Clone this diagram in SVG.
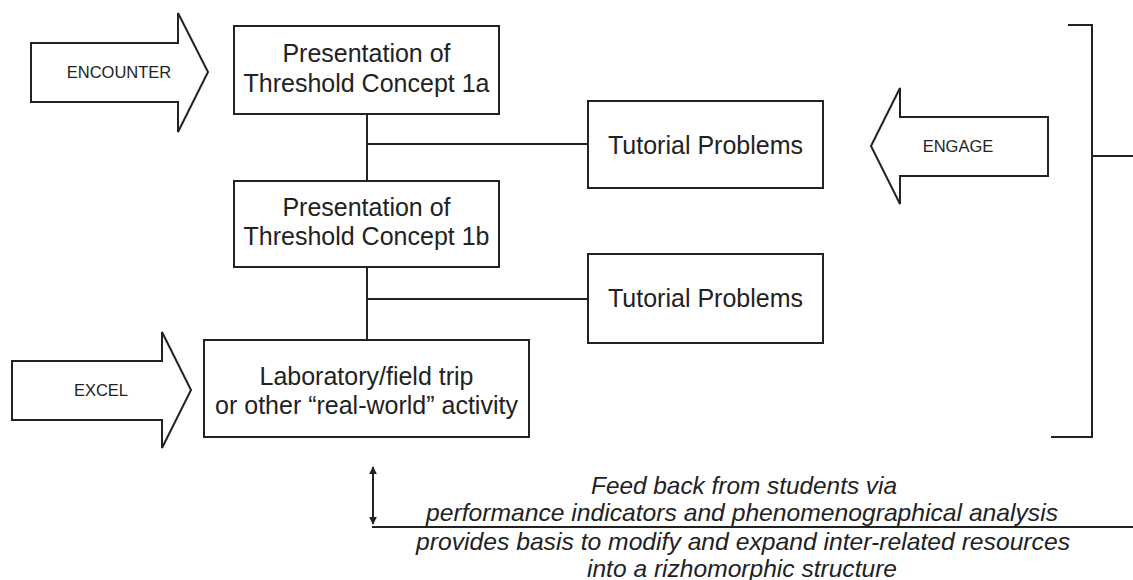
<svg xmlns="http://www.w3.org/2000/svg" width="1133" height="580" viewBox="0 0 1133 580">
<style>
.box{fill:#fff;stroke:#222;stroke-width:2}
.ln{fill:none;stroke:#222;stroke-width:2}
.t{font-family:"Liberation Sans",Arial,sans-serif;font-size:25px;fill:#222;text-anchor:middle}
.a{font-family:"Liberation Sans",Arial,sans-serif;font-size:16.5px;fill:#222;text-anchor:middle}
.i{font-family:"Liberation Sans",Arial,sans-serif;font-size:24px;font-style:italic;fill:#222;text-anchor:middle}
</style>
<defs>
<marker id="ah" viewBox="0 0 10 10" refX="9" refY="5" markerWidth="8" markerHeight="8" markerUnits="userSpaceOnUse" orient="auto-start-reverse">
<path d="M0,0 L10,5 L0,10 z" fill="#222"/>
</marker>
</defs>
<rect width="1133" height="580" fill="#fff"/>
<g id="connectors">
<line class="ln" x1="367" y1="114" x2="367" y2="181"/>
<line class="ln" x1="367" y1="144" x2="588" y2="144"/>
<line class="ln" x1="367" y1="267" x2="367" y2="340"/>
<line class="ln" x1="367" y1="299" x2="588" y2="299"/>
<polyline class="ln" points="1068,25 1092,25 1092,437 1051,437"/>
<line class="ln" x1="1092" y1="156" x2="1133" y2="156"/>
<line class="ln" x1="373" y1="467" x2="373" y2="524" marker-start="url(#ah)" marker-end="url(#ah)"/>
<line class="ln" x1="372" y1="527" x2="1133" y2="527"/>
</g>
<g id="encounter">
<polygon class="box" points="31,43 178,43 178,13 208,72 178,132 178,102 31,102"/>
<text class="a" x="119" y="78">ENCOUNTER</text>
</g>
<g id="excel">
<polygon class="box" points="12,361 162,361 162,332 191,390 162,448 162,420 12,420"/>
<text class="a" x="101" y="396">EXCEL</text>
</g>
<g id="engage">
<polygon class="box" points="1048,117 900,117 900,88 871,146 900,204 900,176 1048,176"/>
<text class="a" x="958" y="152">ENGAGE</text>
</g>
<g id="concept1a">
<rect class="box" x="234" y="26" width="265" height="88"/>
<text class="t" x="366.5" y="62">Presentation of</text>
<text class="t" x="366.5" y="92">Threshold Concept 1a</text>
</g>
<g id="concept1b">
<rect class="box" x="234" y="181" width="265" height="86"/>
<text class="t" x="366.5" y="216">Presentation of</text>
<text class="t" x="366.5" y="245">Threshold Concept 1b</text>
</g>
<g id="lab">
<rect class="box" x="204" y="340" width="325" height="97"/>
<text class="t" x="366.5" y="385">Laboratory/field trip</text>
<text class="t" x="366.5" y="414">or other “real-world” activity</text>
</g>
<g id="tutorial1">
<rect class="box" x="588" y="101" width="235" height="87"/>
<text class="t" x="705.5" y="154">Tutorial Problems</text>
</g>
<g id="tutorial2">
<rect class="box" x="588" y="254" width="235" height="89"/>
<text class="t" x="705.5" y="307">Tutorial Problems</text>
</g>
<g id="feedback">
<text class="i" x="744" y="494" textLength="306" lengthAdjust="spacingAndGlyphs">Feed back from students via</text>
<text class="i" x="742" y="521" textLength="632" lengthAdjust="spacingAndGlyphs">performance indicators and phenomenographical analysis</text>
<text class="i" x="743" y="550" textLength="654" lengthAdjust="spacingAndGlyphs">provides basis to modify and expand inter-related resources</text>
<text class="i" x="742" y="577" textLength="310" lengthAdjust="spacingAndGlyphs">into a rizhomorphic structure</text>
</g>
</svg>
